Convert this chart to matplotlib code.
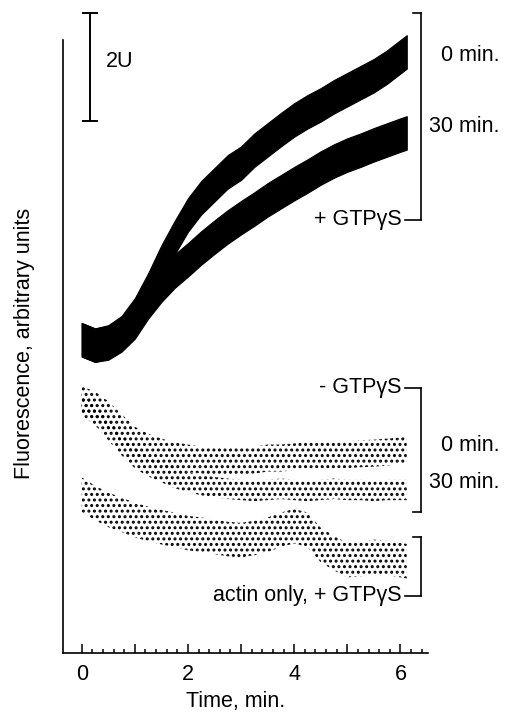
import matplotlib
matplotlib.use("Agg")
import matplotlib.pyplot as plt
import numpy as np

plt.rcParams['font.family'] = ['Liberation Sans', 'DejaVu Sans']
plt.rcParams['hatch.linewidth'] = 1.4

# time points, min.
t = [0, 0.25, 0.5, 0.75, 1.0, 1.25, 1.5, 1.75, 2.0, 2.25, 2.5, 2.75, 3.0,
     3.25, 3.5, 3.75, 4.0, 4.25, 4.5, 4.75, 5.0, 5.25, 5.5, 5.75, 6.0, 6.12]

# + GTPgS traces (fluorescence, arbitrary units)
plus_0min = [5.80, 5.70, 5.76, 5.93, 6.26, 6.72, 7.24, 7.69, 8.11, 8.43, 8.67, 8.91, 9.07,
             9.31, 9.50, 9.69, 9.87, 10.02, 10.15, 10.30, 10.43, 10.56, 10.69, 10.85, 11.04, 11.13]
plus_30min = [5.80, 5.70, 5.74, 5.89, 6.13, 6.50, 6.81, 7.07, 7.28, 7.50, 7.70, 7.89, 8.06,
              8.22, 8.39, 8.54, 8.69, 8.83, 8.98, 9.11, 9.22, 9.31, 9.41, 9.50, 9.59, 9.63]
# - GTPgS traces
minus_0min = [4.69, 4.59, 4.41, 4.17, 3.94, 3.81, 3.72, 3.65, 3.61, 3.57, 3.56, 3.54, 3.56,
              3.57, 3.61, 3.61, 3.63, 3.67, 3.67, 3.67, 3.67, 3.69, 3.70, 3.72, 3.74, 3.76]
minus_30min = [4.59, 4.41, 4.13, 3.85, 3.61, 3.46, 3.35, 3.24, 3.17, 3.11, 3.07, 3.04, 3.02,
               3.00, 3.02, 3.04, 3.02, 3.00, 3.02, 3.04, 3.02, 3.02, 3.00, 3.02, 3.02, 3.02]
# actin only, + GTPgS
actin_only = [2.93, 2.78, 2.65, 2.56, 2.46, 2.39, 2.33, 2.28, 2.22, 2.19, 2.15, 2.11, 2.09,
              2.13, 2.19, 2.28, 2.35, 2.28, 2.00, 1.85, 1.72, 1.74, 1.78, 1.76, 1.72, 1.70]

# noise half-width of each trace
spread_plus = 0.31
spread_minus_0 = 0.25
spread_minus_30 = 0.19
spread_actin = 0.32

FS = 15.5


def solid_trace(ax, y, s):
    y = np.array(y)
    ax.fill_between(t, y - s, y + s, color="black", lw=0.8, clip_on=False)


def dotted_trace(ax, y, s):
    y = np.array(y)
    ax.fill_between(t, y - s, y + s, facecolor="none", edgecolor="black",
                    hatch="...", lw=0, clip_on=False)


def bracket(ax, top, bottom, top_long, bottom_long):
    x = 6.39
    ax.plot([x, x], [top, bottom], color="black", lw=1.2, clip_on=False)
    ax.plot([6.09 if top_long else 6.24, x], [top, top], color="black", lw=1.2, clip_on=False)
    ax.plot([6.09 if bottom_long else 6.24, x], [bottom, bottom], color="black", lw=1.2, clip_on=False)


fig = plt.figure(figsize=(5.10, 7.16), dpi=100)
ax = fig.add_axes([63 / 510, 63 / 716, 365 / 510, 647 / 716])

solid_trace(ax, plus_0min, spread_plus)
solid_trace(ax, plus_30min, spread_plus)
dotted_trace(ax, minus_0min, spread_minus_0)
dotted_trace(ax, minus_30min, spread_minus_30)
dotted_trace(ax, actin_only, spread_actin)

ax.set_xlim(-0.352, 6.52)
ax.set_ylim(0, 11.98)

for s in ["top", "right"]:
    ax.spines[s].set_visible(False)
ax.spines["left"].set_bounds(0, 11.35)
ax.spines["left"].set_linewidth(1.2)
ax.spines["bottom"].set_linewidth(1.2)

ax.set_yticks([])
ax.set_xticks(range(7))
ax.set_xticklabels(["0", "", "2", "", "4", "", "6"])
ax.set_xticks([i * 0.2 for i in range(33) if i % 5 != 0], minor=True)
ax.tick_params(axis="x", which="major", direction="in", length=6.5, width=1.1, pad=8, labelsize=FS)
ax.tick_params(axis="x", which="minor", direction="in", length=3.2, width=1.1)
ax.set_xlabel("Time, min.", fontsize=FS)
ax.xaxis.set_label_coords((236 - 63) / 365, -48 / 647, transform=ax.transAxes)
ax.xaxis.label.set_va("center")
fig.text(25 / 510, 1 - 343 / 716, "Fluorescence, arbitrary units", rotation=90,
         ha="center", va="center", fontsize=FS)

# scale bar 2U
ax.plot([0.156, 0.156], [9.85, 11.85], color="black", lw=1.4, clip_on=False)
ax.plot([0.02, 0.29], [11.85, 11.85], color="black", lw=1.4, clip_on=False)
ax.plot([0.02, 0.29], [9.85, 9.85], color="black", lw=1.4, clip_on=False)
ax.text(0.46, 10.95, "2U", fontsize=FS, va="center", ha="left")

# brackets and labels
bracket(ax, 11.85, 8.02, False, True)
ax.text(6.03, 8.02, "+ GTPγS", fontsize=FS, ha="right", va="center")
ax.text(6.77, 11.07, "0 min.", fontsize=FS, ha="left", va="center", clip_on=False)
ax.text(6.54, 9.74, "30 min.", fontsize=FS, ha="left", va="center", clip_on=False)

bracket(ax, 4.91, 2.61, True, False)
ax.text(6.03, 4.91, "- GTPγS", fontsize=FS, ha="right", va="center")
ax.text(6.77, 3.85, "0 min.", fontsize=FS, ha="left", va="center", clip_on=False)
ax.text(6.54, 3.15, "30 min.", fontsize=FS, ha="left", va="center", clip_on=False)

bracket(ax, 2.15, 1.06, False, True)
ax.text(6.03, 1.06, "actin only, + GTPγS", fontsize=FS, ha="right", va="center")

fig.savefig("out.png", dpi=100)
